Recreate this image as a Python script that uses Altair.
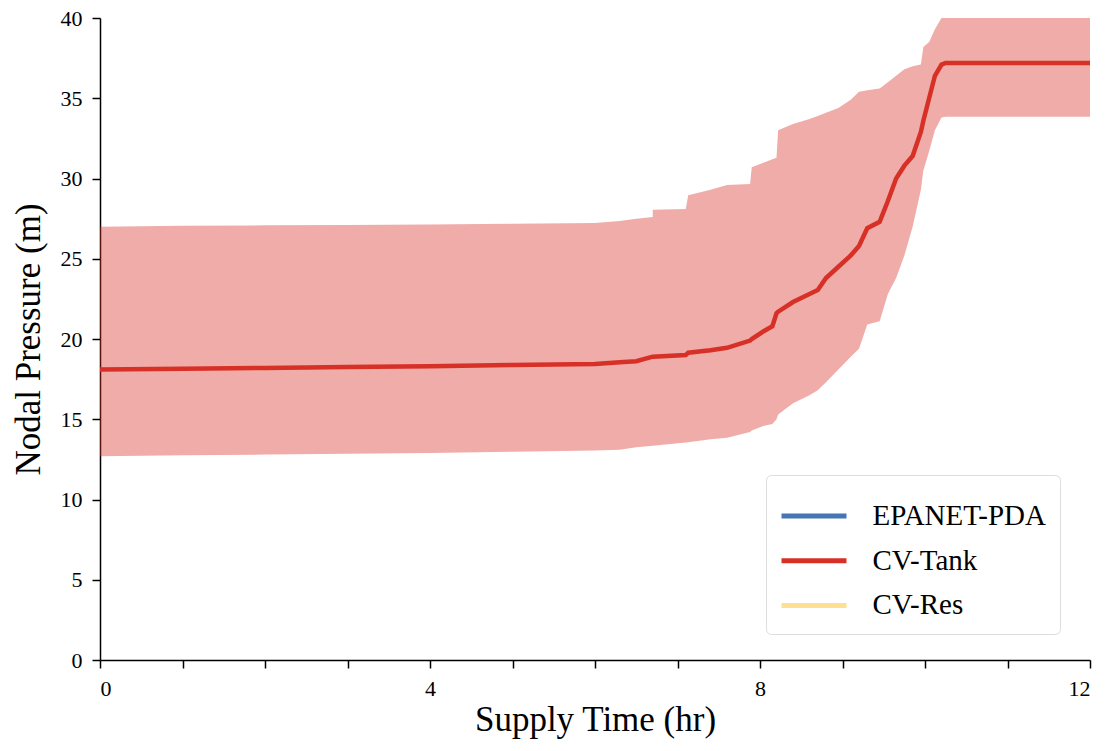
import altair as alt
import pandas as pd

# Supply time (hr)
time_hr = [0, 1, 2, 3, 4, 5, 6, 6.3, 6.5, 6.7, 6.7, 7.1, 7.13, 7.4, 7.6, 7.88, 7.9,
           8.05, 8.15, 8.2, 8.22, 8.4, 8.6, 8.7, 8.8, 8.95, 9.1, 9.2, 9.3, 9.45,
           9.55, 9.65, 9.75, 9.85, 9.95, 9.98, 10.05, 10.12, 10.2, 10.25, 12]
# CV-Tank mean nodal pressure (m)
mean_p = [18.10, 18.15, 18.20, 18.25, 18.30, 18.38, 18.45, 18.55, 18.62, 18.90, 18.90,
          19.00, 19.15, 19.30, 19.45, 19.90, 20.00, 20.50, 20.80, 21.60, 21.70, 22.30,
          22.80, 23.05, 23.80, 24.50, 25.20, 25.80, 26.90, 27.30, 28.60, 30.00, 30.80,
          31.40, 32.90, 33.60, 35.00, 36.40, 37.10, 37.20, 37.20]
# lower bound of band (m)
lower_p = [12.70, 12.75, 12.80, 12.85, 12.90, 12.98, 13.05, 13.10, 13.25, 13.35, 13.35,
           13.55, 13.57, 13.75, 13.85, 14.20, 14.30, 14.60, 14.70, 15.00, 15.30, 16.00,
           16.50, 16.80, 17.30, 18.10, 18.90, 19.40, 20.90, 21.10, 22.80, 23.80, 25.20,
           27.00, 29.30, 30.50, 31.70, 33.00, 33.80, 33.85, 33.85]
# upper bound of band (m)
upper_p = [27.00, 27.05, 27.08, 27.10, 27.13, 27.18, 27.22, 27.35, 27.50, 27.60, 28.05,
           28.10, 28.95, 29.30, 29.60, 29.65, 30.70, 31.00, 31.20, 31.30, 33.00, 33.40,
           33.70, 33.90, 34.10, 34.40, 34.90, 35.40, 35.50, 35.60, 36.00, 36.40, 36.80,
           37.00, 37.10, 38.20, 38.50, 39.30, 40.00, 40.00, 40.00]

series_names = ["EPANET-PDA", "CV-Tank", "CV-Res"]
series_colors = ["#4575b4", "#d73027", "#fee090"]
x_ticks = list(range(0, 13))
y_ticks = [0, 5, 10, 15, 20, 25, 30, 35, 40]

df = pd.DataFrame({
    "t": time_hr, "mean": mean_p, "lower": lower_p, "upper": upper_p,
    "series": ["CV-Tank"] * len(time_hr),
})

FONT = "Liberation Serif"

x_enc = alt.X("t:Q", scale=alt.Scale(domain=[0, 12], nice=False, zero=False),
              axis=alt.Axis(title="Supply Time (hr)", values=x_ticks,
                            labelExpr="datum.value % 4 == 0 ? datum.label : ''"))

band = alt.Chart(df).mark_area(color="#d73027", opacity=0.4, clip=True).encode(
    x=x_enc,
    y=alt.Y("lower:Q", scale=alt.Scale(domain=[0, 40], nice=False),
            axis=alt.Axis(title="Nodal Pressure (m)", values=y_ticks)),
    y2="upper:Q",
)

line = alt.Chart(df).mark_line(strokeWidth=4.5, clip=True).encode(
    x=x_enc,
    y=alt.Y("mean:Q"),
    color=alt.Color("series:N",
                    scale=alt.Scale(domain=series_names, range=series_colors),
                    legend=alt.Legend(title=" ", orient="none", legendX=666, legendY=457,
                                      symbolType="stroke", symbolSize=4225,
                                      symbolStrokeWidth=5, labelFontSize=29,
                                      labelFont=FONT, labelColor="black", labelLimit=400,
                                      titleFontSize=10, titlePadding=3,
                                      padding=13, rowPadding=14.7, clipHeight=30,
                                      labelOffset=23.5, fillColor="white",
                                      strokeColor="#dddddd", cornerRadius=5)),
)

chart = alt.layer(band, line).properties(
    width=990, height=642,
    autosize=alt.AutoSizeParams(type="none"),
    padding={"left": 100, "top": 18, "right": 19, "bottom": 91},
).configure_view(stroke=None).configure_axis(
    grid=False, domainColor="black", domainWidth=1.5, tickColor="black",
    tickWidth=1.5, tickSize=8, labelFont=FONT, labelFontSize=22, labelColor="black",
    labelPadding=10, titleFont=FONT, titleFontSize=35, titleFontWeight="normal",
    titleColor="black",
).configure_axisX(titlePadding=3).configure_axisY(titlePadding=14)

chart.save("out.html", embed_options={"renderer": "svg", "actions": False})
